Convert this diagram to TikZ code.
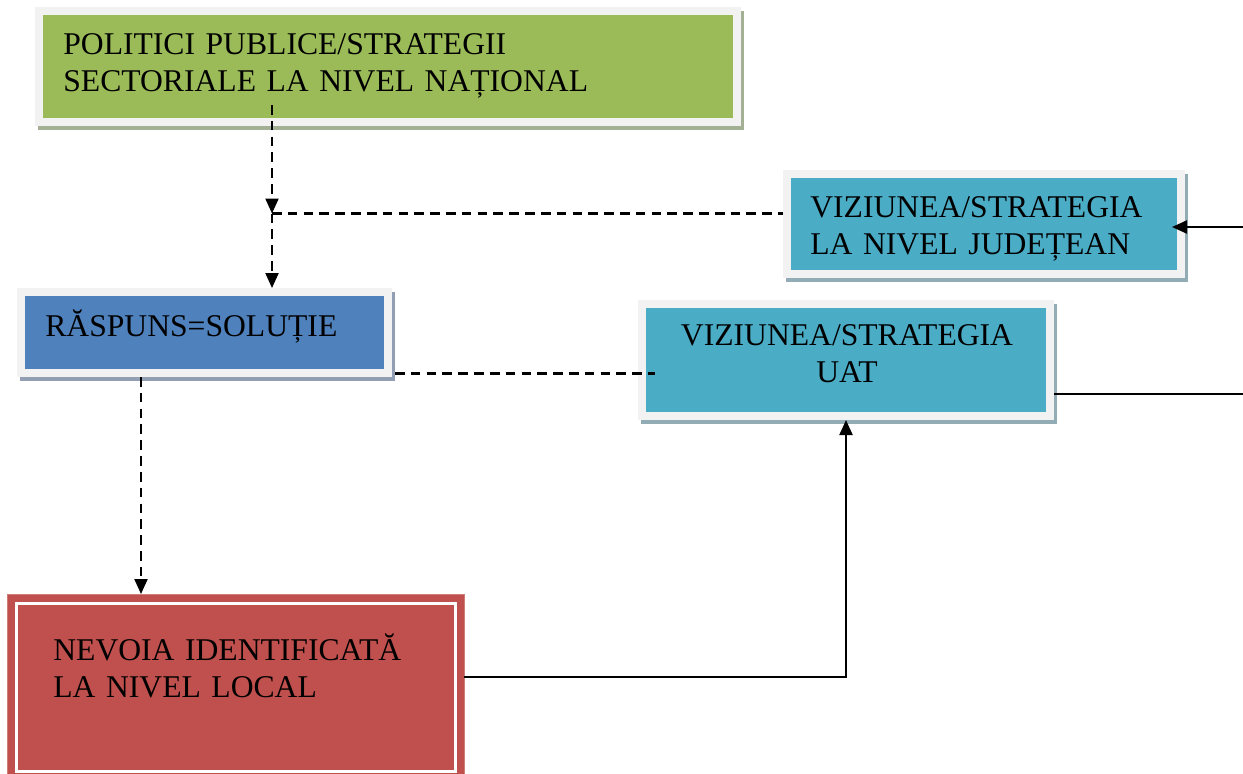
\documentclass[tikz,border=0pt]{standalone}
\usepackage{fontspec}
\setmainfont{Liberation Serif}
\definecolor{framegray}{RGB}{242,242,242}
\definecolor{natgreen}{RGB}{155,187,89}
\definecolor{natshadow}{RGB}{163,176,148}
\definecolor{solblue}{RGB}{79,129,189}
\definecolor{solshadow}{RGB}{145,158,180}
\definecolor{visteal}{RGB}{75,172,198}
\definecolor{visshadow}{RGB}{146,172,182}
\definecolor{needred}{RGB}{192,80,77}
\usetikzlibrary{arrows.meta,shadows,positioning}

\begin{document}
\begin{tikzpicture}[font=\fontsize{18}{21.5}\selectfont,
  >={Triangle[length=0.3cm,width=0.26cm]},
  panel/.style 2 args={rectangle, inner sep=0pt, outer sep=0pt, fill=framegray,
    drop shadow={shadow xshift=0.06cm, shadow yshift=-0.08cm, fill=#2, opacity=1},
    path picture={\fill[#1] ([shift={(0.16,0.16)}]path picture bounding box.south west)
      rectangle ([shift={(-0.16,-0.16)}]path picture bounding box.north east);}},
  needbox/.style={rectangle, inner sep=0pt, outer sep=0pt, fill=needred,
    draw=needred!75!white, line width=0.4pt,
    path picture={\draw[white, line width=0.06cm] ([shift={(0.18,0.18)}]path picture bounding box.south west)
      rectangle ([shift={(-0.18,-0.18)}]path picture bounding box.north east);}},
  boxtext/.style={inner sep=0pt, anchor=base west, align=left, text width=#1},
  dashlink/.style={dash pattern=on 5.5pt off 3.5pt, line width=1.2pt},
  link/.style={line width=1.2pt}]
  \clip (0,0) rectangle (24.86,-15.46);
  % Casete
  \node[panel={natgreen}{natshadow}, minimum width=14.12cm, minimum height=2.38cm] (national) at (7.76,-1.33) {};
  \node[panel={visteal}{visshadow}, minimum width=8.04cm, minimum height=2.16cm] (county) at (19.68,-4.48) {};
  \node[panel={solblue}{solshadow}, minimum width=7.50cm, minimum height=1.78cm] (answer) at (4.09,-6.65) {};
  \node[panel={visteal}{visshadow}, minimum width=8.32cm, minimum height=2.40cm] (uat) at (16.92,-7.20) {};
  \node[needbox, minimum width=9.14cm, minimum height=3.72cm] (need) at (4.71,-13.74) {};
  % Texte
  \node[boxtext=11cm] (nationalT) at (1.26,-1.08) {POLITICI PUBLICE/STRATEGII\\SECTORIALE LA NIVEL NAȚIONAL};
  \node[boxtext=7.5cm] (countyT) at (16.20,-4.34) {VIZIUNEA/STRATEGIA\\LA NIVEL JUDEȚEAN};
  \node[boxtext=6.5cm] (answerT) at (0.90,-6.72) {RĂSPUNS=SOLUȚIE};
  \node[boxtext=8cm, align=center, anchor=base] (uatT) at (16.94,-6.90) {VIZIUNEA/STRATEGIA\\UAT};
  \node[boxtext=8cm] (needT) at (1.06,-13.20) {NEVOIA IDENTIFICATĂ\\LA NIVEL LOCAL};
  % Legaturi
  \coordinate (natout) at (5.44,-2.10);
  \coordinate (fork) at (5.44,-4.27);
  \coordinate (countyin) at (24.86,-4.54);
  \coordinate (uatout) at (24.86,-7.88);
  \draw[dashlink,->] (natout) -- (fork);
  \draw[dashlink,->] (fork) -- (fork |- answer.north);
  \draw[dashlink] (fork) -- (fork -| county.west);
  \draw[dashlink] ([xshift=0.06cm,yshift=-0.82cm]answer.east) -- ([xshift=0.34cm,yshift=-0.27cm]uat.west);
  \draw[dashlink,->] (answer.south -| 2.82,0) -- (need.north -| 2.82,0);
  \draw[link,<-] ([xshift=-0.26cm]county.east |- countyin) -- (countyin);
  \draw[link] (uat.east |- uatout) -- (uatout);
  \draw[link,->] ([yshift=0.20cm]need.east) -| (uat.south);
\end{tikzpicture}
\end{document}
